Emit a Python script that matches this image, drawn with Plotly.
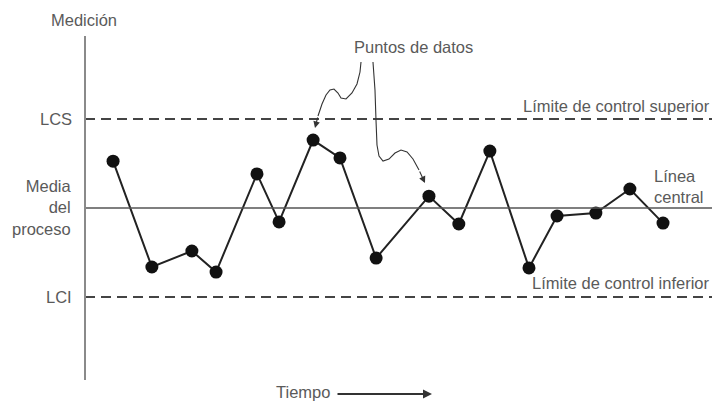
import plotly.graph_objects as go

# ---- data ----
tiempo = [0.94, 2.24, 3.58, 4.39, 5.76, 6.50, 7.64, 8.54, 9.75, 11.52,
          12.52, 13.56, 14.87, 15.81, 17.11, 18.25, 19.36]
medicion = [1.58, -1.99, -1.45, -2.16, 1.15, -0.47, 2.29, 1.69, -1.69, 0.40,
            -0.54, 1.92, -2.02, -0.27, -0.17, 0.64, -0.51]
media = 0.0
lcs = 3.0
lci = -3.0

# ---- layout geometry (pixels) ----
W, H = 714, 403
L, R, T, B = 85, 2, 36, 23
PW, PH = W - L - R, H - T - B
XR = [0, 21]
YR = [-5.8, 5.8]
TXT = "#5a5a5a"
FONT = "Liberation Sans, Arial, sans-serif"
FS = 16.5


def px(xp, yp):
    """pixel -> paper coords"""
    return (xp - L) / PW, (H - B - yp) / PH


fig = go.Figure()

# reference lines
fig.add_shape(type="line", xref="paper", x0=0, x1=1, yref="y", y0=lcs, y1=lcs,
              line=dict(color="#444", width=2, dash="10px,6px"))
fig.add_shape(type="line", xref="paper", x0=0, x1=1, yref="y", y0=lci, y1=lci,
              line=dict(color="#444", width=2, dash="10px,6px"))
fig.add_shape(type="line", xref="paper", x0=0, x1=1, yref="y", y0=media, y1=media,
              line=dict(color="#555", width=1.5))
# vertical axis
fig.add_shape(type="line", xref="paper", x0=0, x1=0, yref="paper", y0=0, y1=1,
              line=dict(color="#8a8a8a", width=2))

fig.add_trace(go.Scatter(
    x=tiempo, y=medicion, mode="lines+markers",
    line=dict(color="#222", width=2),
    marker=dict(color="#111", size=13),
    showlegend=False, hoverinfo="skip"))

# curvy pointer paths (decoration)
def path_from(pts):
    s = ""
    for i, (a, b) in enumerate(pts):
        u, v = px(a, b)
        s += ("M" if i == 0 else " L") + f"{u:.4f},{v:.4f}"
    return s

curve1 = [(361, 62), (360, 72), (357, 84), (352, 93), (346, 99), (341, 98),
          (338, 93), (334, 89), (330, 90), (326, 95), (322, 104), (318, 116)]
curve2 = [(373, 62), (375, 90), (376, 120), (377, 145), (379, 156), (383, 161),
          (389, 159), (395, 153), (401, 150), (407, 152), (413, 159), (419, 170)]
for c in (curve1, curve2):
    fig.add_shape(type="path", xref="paper", yref="paper", path=path_from(c),
                  line=dict(color="#333", width=1.1))

def arrow(tip, tail, width=1.1, size=1.0):
    u, v = px(*tip)
    fig.add_annotation(x=u, y=v, xref="paper", yref="paper", text="",
                       showarrow=True, ax=tail[0] - tip[0], ay=tail[1] - tip[1],
                       arrowhead=2, arrowsize=size, arrowwidth=width,
                       arrowcolor="#333")

arrow((315, 128), (318, 116), size=1.2)
arrow((425, 183), (419, 170), size=1.2)
arrow((432, 394), (336, 394), width=1.8, size=1.0)

def label(text, xp, yp, xanchor="left", yanchor="middle", align="left"):
    u, v = px(xp, yp)
    fig.add_annotation(x=u, y=v, xref="paper", yref="paper", text=text,
                       showarrow=False, xanchor=xanchor, yanchor=yanchor,
                       align=align, font=dict(family=FONT, size=FS, color=TXT))

label("Medición", 84, 20, xanchor="center")
label("LCS", 74, 119, xanchor="right")
label("Media<br>del<br>proceso", 74, 207, xanchor="right", align="right")
label("LCI", 74, 297, xanchor="right")
label("Puntos de datos", 413, 47, xanchor="center")
label("Límite de control superior", 712, 106, xanchor="right")
label("Línea<br>central", 652, 186, xanchor="left")
label("Límite de control inferior", 712, 283, xanchor="right")
label("Tiempo", 303, 392, xanchor="center")

fig.update_layout(
    width=W, height=H,
    margin=dict(l=L, r=R, t=T, b=B),
    paper_bgcolor="white", plot_bgcolor="white",
    xaxis=dict(range=XR, visible=False, fixedrange=True),
    yaxis=dict(range=YR, visible=False, fixedrange=True),
    font=dict(family=FONT),
)

fig.write_html("out.html", config={"displayModeBar": False},
               post_script="document.body.style.margin='0';")
